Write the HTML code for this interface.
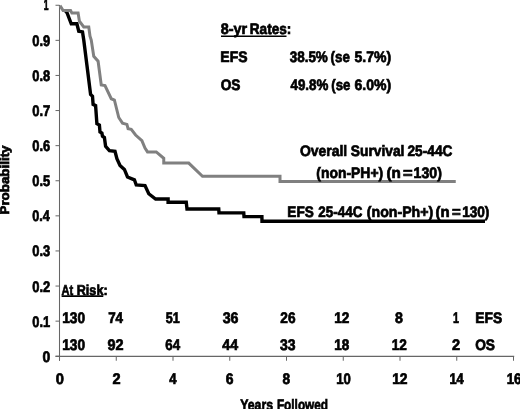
<!DOCTYPE html>
<html><head><meta charset="utf-8"><title>chart</title>
<style>html,body{margin:0;padding:0;background:#fff;}svg{display:block;will-change:transform;filter:grayscale(1);text-rendering:geometricPrecision;}</style></head>
<body><svg width="520" height="409" viewBox="0 0 520 409">
<rect width="520" height="409" fill="#fff"/>
<g stroke="#666" stroke-width="1" fill="none">
<line x1="59.5" y1="5" x2="59.5" y2="360.75" stroke-width="1.05"/>
<line x1="55.5" y1="356.25" x2="514.2" y2="356.25" stroke-width="1.25"/>
<line x1="55.5" y1="356.25" x2="59.5" y2="356.25"/>
<line x1="55.5" y1="321.15" x2="59.5" y2="321.15"/>
<line x1="55.5" y1="286.05" x2="59.5" y2="286.05"/>
<line x1="55.5" y1="250.95" x2="59.5" y2="250.95"/>
<line x1="55.5" y1="215.85" x2="59.5" y2="215.85"/>
<line x1="55.5" y1="180.75" x2="59.5" y2="180.75"/>
<line x1="55.5" y1="145.65" x2="59.5" y2="145.65"/>
<line x1="55.5" y1="110.55" x2="59.5" y2="110.55"/>
<line x1="55.5" y1="75.45" x2="59.5" y2="75.45"/>
<line x1="55.5" y1="40.35" x2="59.5" y2="40.35"/>
<line x1="55.5" y1="5.25" x2="59.5" y2="5.25"/>
<line x1="59.50" y1="356.25" x2="59.50" y2="360.75"/>
<line x1="116.25" y1="356.25" x2="116.25" y2="360.75"/>
<line x1="173.00" y1="356.25" x2="173.00" y2="360.75"/>
<line x1="229.75" y1="356.25" x2="229.75" y2="360.75"/>
<line x1="286.50" y1="356.25" x2="286.50" y2="360.75"/>
<line x1="343.25" y1="356.25" x2="343.25" y2="360.75"/>
<line x1="400.00" y1="356.25" x2="400.00" y2="360.75"/>
<line x1="456.75" y1="356.25" x2="456.75" y2="360.75"/>
<line x1="513.50" y1="356.25" x2="513.50" y2="360.75"/>
</g>
<polyline points="65.5,11.2 66.9,12.5 71.25,23.75 76.9,23.75 78.75,31.25 82.5,31.9 83.75,40 86.9,65 89.4,85 90.6,94.4 92.5,96.25 93.1,104.4 95.6,105.6 96.9,123.75 99.4,125 100,131.9 101.9,133.1 102.5,136.25 104.4,137.5 105.6,146.25 109.4,150.6 115,151.25 116.9,158.75 120,165.5 124.4,169.4 127.5,177 134.4,179.8 136.25,185 145,185.6 148.75,193.75 155.6,199.0 168.1,199.0 168.1,202.2 186.25,202.2 187,209.0 218.75,209.0 219,212.9 243.75,212.9 244,216.6 261.9,216.6 262,221.25 485,221.25" fill="none" stroke="#000" stroke-width="3.4" stroke-linejoin="miter"/>
<polyline points="60,5.6 63.1,10.6 70.6,10.6 71.9,13.1 78.1,13.1 79.4,21.25 83.75,26.9 88.75,26.9 90,36.25 91.25,40 93.75,56.25 98.1,61.25 101.25,85 105,85.6 111.25,98.75 114.4,100 118.75,117.5 122.5,123.1 126.9,124.4 128.1,128.75 131.25,129.4 135.6,135 141.9,140.6 145,148.1 147.5,151.9 156.25,151.9 163.75,158.3 163.75,163.1 188.75,163.1 202.5,176.25 280,176.25 280,181.5 455.75,181.5" fill="none" stroke="#808080" stroke-width="3" stroke-linejoin="miter"/>
<g font-family="Liberation Sans, sans-serif" font-weight="bold" font-size="15px" fill="#000" stroke="#000" stroke-width="0.7">
<text x="42.55" y="361.75" font-size="15.3px" textLength="7.78" lengthAdjust="spacingAndGlyphs">0</text>
<text x="32.24" y="326.65" font-size="15.3px" textLength="17.87" lengthAdjust="spacingAndGlyphs">0.1</text>
<text x="32.24" y="291.55" font-size="15.3px" textLength="18.03" lengthAdjust="spacingAndGlyphs">0.2</text>
<text x="32.24" y="256.45" font-size="15.3px" textLength="17.98" lengthAdjust="spacingAndGlyphs">0.3</text>
<text x="32.25" y="221.35" font-size="15.3px" textLength="17.57" lengthAdjust="spacingAndGlyphs">0.4</text>
<text x="32.24" y="186.25" font-size="15.3px" textLength="17.87" lengthAdjust="spacingAndGlyphs">0.5</text>
<text x="32.24" y="151.15" font-size="15.3px" textLength="17.98" lengthAdjust="spacingAndGlyphs">0.6</text>
<text x="32.24" y="116.05" font-size="15.3px" textLength="18.09" lengthAdjust="spacingAndGlyphs">0.7</text>
<text x="32.24" y="80.95" font-size="15.3px" textLength="17.91" lengthAdjust="spacingAndGlyphs">0.8</text>
<text x="32.24" y="45.85" font-size="15.3px" textLength="17.99" lengthAdjust="spacingAndGlyphs">0.9</text>
<text x="43.76" y="10.25" font-size="15.3px" textLength="4.78" lengthAdjust="spacingAndGlyphs">1</text>
<text x="55.67" y="384.20" font-size="15.3px" textLength="8.19" lengthAdjust="spacingAndGlyphs">0</text>
<text x="112.50" y="384.20" font-size="15.3px" textLength="8.09" lengthAdjust="spacingAndGlyphs">2</text>
<text x="169.30" y="384.20" font-size="15.3px" textLength="7.27" lengthAdjust="spacingAndGlyphs">4</text>
<text x="225.74" y="384.20" font-size="15.3px" textLength="7.77" lengthAdjust="spacingAndGlyphs">6</text>
<text x="282.57" y="384.20" font-size="15.3px" textLength="7.60" lengthAdjust="spacingAndGlyphs">8</text>
<text x="336.17" y="384.20" font-size="15.3px" textLength="14.62" lengthAdjust="spacingAndGlyphs">10</text>
<text x="392.13" y="384.20" font-size="15.3px" textLength="15.43" lengthAdjust="spacingAndGlyphs">12</text>
<text x="449.49" y="384.20" font-size="15.3px" textLength="14.28" lengthAdjust="spacingAndGlyphs">14</text>
<text x="506.66" y="384.20" font-size="15.3px" textLength="14.82" lengthAdjust="spacingAndGlyphs">16</text>
<text x="240.19" y="409.80" font-size="15.2px" textLength="32.81" lengthAdjust="spacingAndGlyphs">Years</text>
<text x="276.91" y="409.80" font-size="15.2px" textLength="51.17" lengthAdjust="spacingAndGlyphs">Followed</text>
<text x="220.79" y="34.30" font-size="15.2px" textLength="26.42" lengthAdjust="spacingAndGlyphs">8-yr</text>
<text x="249.84" y="34.30" font-size="15.2px" textLength="41.46" lengthAdjust="spacingAndGlyphs">Rates:</text>
<text x="220.31" y="62.20" font-size="15.2px" textLength="27.23" lengthAdjust="spacingAndGlyphs">EFS</text>
<text x="220.69" y="89.90" font-size="15.2px" textLength="19.85" lengthAdjust="spacingAndGlyphs">OS</text>
<text x="289.69" y="62.20" font-size="15.2px" textLength="38.16" lengthAdjust="spacingAndGlyphs">38.5%</text>
<text x="330.58" y="62.20" font-size="15.2px" textLength="19.38" lengthAdjust="spacingAndGlyphs">(se</text>
<text x="354.57" y="62.20" font-size="15.2px" textLength="36.63" lengthAdjust="spacingAndGlyphs">5.7%)</text>
<text x="290.55" y="89.90" font-size="15.2px" textLength="37.80" lengthAdjust="spacingAndGlyphs">49.8%</text>
<text x="331.34" y="89.90" font-size="15.2px" textLength="19.11" lengthAdjust="spacingAndGlyphs">(se</text>
<text x="354.49" y="89.90" font-size="15.2px" textLength="36.71" lengthAdjust="spacingAndGlyphs">6.0%)</text>
<text x="299.93" y="155.60" font-size="15.2px" textLength="47.31" lengthAdjust="spacingAndGlyphs">Overall</text>
<text x="350.85" y="155.60" font-size="15.2px" textLength="53.62" lengthAdjust="spacingAndGlyphs">Survival</text>
<text x="407.53" y="155.60" font-size="15.2px" textLength="44.85" lengthAdjust="spacingAndGlyphs">25-44C</text>
<text x="316.31" y="178.00" font-size="15.2px" textLength="66.89" lengthAdjust="spacingAndGlyphs">(non-PH+)</text>
<text x="386.49" y="178.00" font-size="15.2px" textLength="14.46" lengthAdjust="spacingAndGlyphs">(n</text>
<text x="403.07" y="178.00" font-size="15.2px" textLength="9.61" lengthAdjust="spacingAndGlyphs">=</text>
<text x="413.61" y="178.00" font-size="15.2px" textLength="28.35" lengthAdjust="spacingAndGlyphs">130)</text>
<text x="287.34" y="217.20" font-size="15.2px" textLength="26.44" lengthAdjust="spacingAndGlyphs">EFS</text>
<text x="318.28" y="217.20" font-size="15.2px" textLength="44.08" lengthAdjust="spacingAndGlyphs">25-44C</text>
<text x="366.80" y="217.20" font-size="15.2px" textLength="66.41" lengthAdjust="spacingAndGlyphs">(non-Ph+)</text>
<text x="435.50" y="217.20" font-size="15.2px" textLength="14.18" lengthAdjust="spacingAndGlyphs">(n</text>
<text x="451.88" y="217.20" font-size="15.2px" textLength="8.73" lengthAdjust="spacingAndGlyphs">=</text>
<text x="462.14" y="217.20" font-size="15.2px" textLength="27.29" lengthAdjust="spacingAndGlyphs">130)</text>
<text x="61.53" y="294.70" font-size="14.3px" textLength="11.61" lengthAdjust="spacingAndGlyphs">At</text>
<text x="76.76" y="294.70" font-size="14.3px" textLength="30.86" lengthAdjust="spacingAndGlyphs">Risk:</text>
<text x="62.13" y="322.80" font-size="15.3px" textLength="22.93" lengthAdjust="spacingAndGlyphs">130</text>
<text x="108.17" y="322.80" font-size="15.3px" textLength="14.90" lengthAdjust="spacingAndGlyphs">74</text>
<text x="165.86" y="322.80" font-size="15.3px" textLength="13.99" lengthAdjust="spacingAndGlyphs">51</text>
<text x="222.67" y="322.80" font-size="15.3px" textLength="15.84" lengthAdjust="spacingAndGlyphs">36</text>
<text x="280.28" y="322.80" font-size="15.3px" textLength="15.22" lengthAdjust="spacingAndGlyphs">26</text>
<text x="334.14" y="322.80" font-size="15.3px" textLength="15.15" lengthAdjust="spacingAndGlyphs">12</text>
<text x="395.05" y="322.80" font-size="15.3px" textLength="7.89" lengthAdjust="spacingAndGlyphs">8</text>
<text x="453.07" y="322.80" font-size="15.3px" textLength="5.98" lengthAdjust="spacingAndGlyphs">1</text>
<text x="475.32" y="322.80" font-size="15.2px" textLength="26.97" lengthAdjust="spacingAndGlyphs">EFS</text>
<text x="62.13" y="350.30" font-size="15.3px" textLength="22.93" lengthAdjust="spacingAndGlyphs">130</text>
<text x="107.50" y="350.30" font-size="15.3px" textLength="16.08" lengthAdjust="spacingAndGlyphs">92</text>
<text x="165.26" y="350.30" font-size="15.3px" textLength="14.81" lengthAdjust="spacingAndGlyphs">64</text>
<text x="222.29" y="350.30" font-size="15.3px" textLength="15.79" lengthAdjust="spacingAndGlyphs">44</text>
<text x="279.93" y="350.30" font-size="15.3px" textLength="15.58" lengthAdjust="spacingAndGlyphs">33</text>
<text x="334.15" y="350.30" font-size="15.3px" textLength="15.02" lengthAdjust="spacingAndGlyphs">18</text>
<text x="391.64" y="350.30" font-size="15.3px" textLength="15.15" lengthAdjust="spacingAndGlyphs">12</text>
<text x="452.00" y="350.30" font-size="15.3px" textLength="8.09" lengthAdjust="spacingAndGlyphs">2</text>
<text x="475.19" y="350.30" font-size="15.2px" textLength="19.85" lengthAdjust="spacingAndGlyphs">OS</text>
<text transform="translate(9.1,214.5) rotate(-90)" font-size="12.6px" textLength="69.00" lengthAdjust="spacingAndGlyphs">Probability</text>
</g>
<line x1="221" y1="36.2" x2="286.5" y2="36.2" stroke="#000" stroke-width="1.6"/>
<line x1="61.6" y1="296.1" x2="103.3" y2="296.1" stroke="#000" stroke-width="1.6"/>
</svg></body></html>
